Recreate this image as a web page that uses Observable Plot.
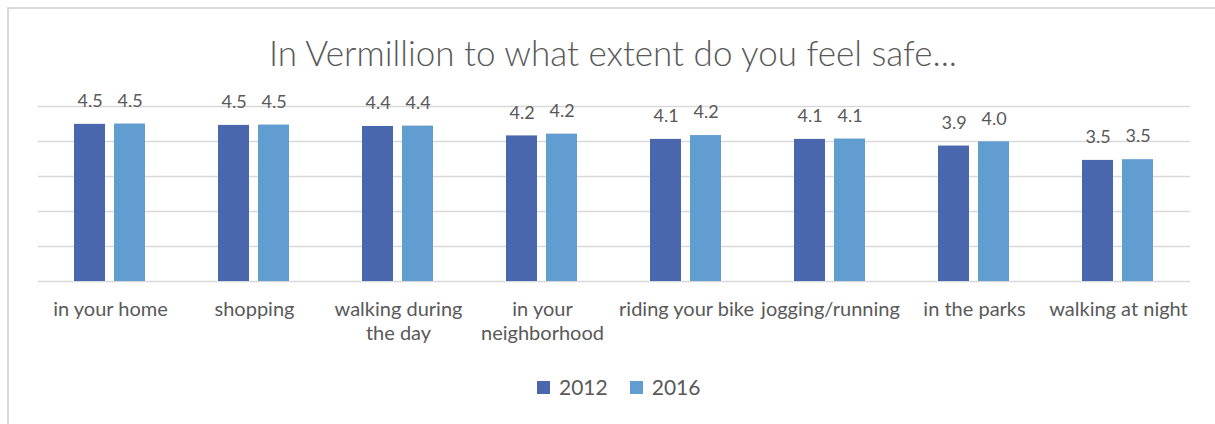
<!DOCTYPE html>
<html><head><meta charset="utf-8">
<script src="https://cdn.jsdelivr.net/npm/d3@7"></script>
<script src="https://cdn.jsdelivr.net/npm/@observablehq/plot@0.6"></script>
<style>
body{margin:0;background:#fff;font-family:Lato,sans-serif;color:#595959;}
#wrap{position:relative;width:1215px;height:424px;overflow:hidden;background:#fff;}
#frame{position:absolute;left:7px;top:7px;width:1240px;height:440px;border-left:2px solid #d9d9d9;border-top:2px solid #d9d9d9;}
#title{position:absolute;left:0;width:1226px;top:32px;text-align:center;font-size:35px;font-weight:300;line-height:40px;white-space:nowrap;}
#chart{position:absolute;left:0;top:0;}
#legend{position:absolute;top:375px;left:537px;display:flex;align-items:center;font-size:21px;line-height:24px;height:24px;}
#legend .sw{width:13px;height:13px;display:inline-block;margin-right:9px;}
#legend .it{display:flex;align-items:center;margin-right:22px;}
</style>
</head><body>
<div id="wrap">
  <div id="frame"></div>
  <div id="chart"></div>
  <div id="title"></div>
  <div id="legend"></div>
</div>
<script>
const title = "In Vermillion to what extent do you feel safe...";
const categories = ["in your home","shopping","walking during the day","in your neighborhood","riding your bike","jogging/running","in the parks","walking at night"];
const categoryLabels = ["in your home","shopping","walking during\nthe day","in your\nneighborhood","riding your bike","jogging/running","in the parks","walking at night"];
const years = ["2012","2016"];
const values2012 = [4.49,4.46,4.43,4.16,4.06,4.06,3.87,3.46];
const values2016 = [4.50,4.47,4.44,4.21,4.17,4.07,3.99,3.48];
const colors = ["#4a66ac","#629dd1"];
const yTicks = [0,1,2,3,4,5];

const data = [];
categories.forEach((c,i)=>{
  data.push({category:c, year:years[0], value:values2012[i]});
  data.push({category:c, year:years[1], value:values2016[i]});
});
const labelMap = new Map(categories.map((c,i)=>[c, categoryLabels[i]]));
const fmt = d3.format(".1f");

const chart = Plot.plot({
  width:1215, height:350,
  marginTop:106, marginBottom:69, marginLeft:36, marginRight:23,
  style:{color:"#595959", fontFamily:"Lato, sans-serif", background:"transparent"},
  fx:{domain:categories, padding:0, label:null},
  x:{domain:years, paddingInner:0.22, paddingOuter:0.872, axis:null},
  y:{domain:[0,5], axis:null},
  color:{domain:years, range:colors},
  marks:[
    Plot.ruleY(yTicks, {stroke:"#d9d9d9", strokeWidth:1.5}),
    Plot.barY(data, {fx:"category", x:"year", y:"value", fill:"year"}),
    Plot.text(data, {fx:"category", x:"year", y:"value", text:d=>fmt(d.value), dy:-23, fontSize:18, fill:"#595959"}),
    Plot.axisFx({anchor:"bottom", tickSize:0, tickPadding:17, fontSize:20, lineHeight:1.2, tickFormat:d=>labelMap.get(d), label:null})
  ]
});
document.getElementById("chart").appendChild(chart);
document.getElementById("title").textContent = title;
const lg = document.getElementById("legend");
years.forEach((y,i)=>{
  const it = document.createElement("span"); it.className="it";
  const sw = document.createElement("span"); sw.className="sw"; sw.style.background=colors[i];
  const t = document.createElement("span"); t.textContent=y;
  it.appendChild(sw); it.appendChild(t); lg.appendChild(it);
});
</script>
</body></html>
